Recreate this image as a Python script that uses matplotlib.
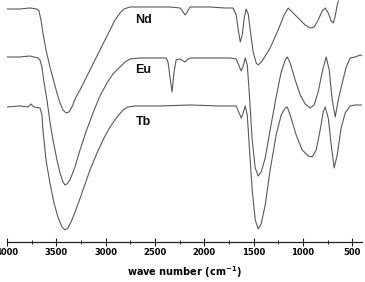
import matplotlib
matplotlib.use("Agg")
import matplotlib.pyplot as plt
from matplotlib.ticker import MultipleLocator

# wave number (cm-1) and offset transmittance (arbitrary units)
nd_w = [4000, 3868, 3767, 3696, 3675, 3655, 3635, 3604, 3564, 3523, 3493, 3462, 3432,
        3401, 3371, 3341, 3300, 3259, 3158, 3057, 2955, 2904, 2854, 2813, 2752, 2549,
        2346, 2245, 2214, 2194, 2174, 2143, 1941, 1788, 1707, 1676, 1655, 1635, 1615,
        1595, 1575, 1554, 1534, 1504, 1473, 1453, 1413, 1332, 1251, 1190, 1149, 1109,
        1048, 977, 926, 886, 845, 804, 774, 743, 713, 692, 672, 652, 641]
nd_t = [233, 233, 234, 233, 231, 222, 209, 192, 175, 160, 149, 139, 132,
        129, 130, 135, 145, 152, 172, 192, 212, 222, 229, 233, 235, 235,
        235, 234, 230, 227, 230, 235, 235, 234, 234, 227, 212, 200, 207,
        224, 233, 228, 212, 190, 179, 177, 181, 194, 212, 227, 234, 230,
        224, 217, 214, 215, 222, 231, 234, 229, 221, 219, 226, 237, 241]

eu_w = [4000, 3868, 3767, 3686, 3665, 3645, 3625, 3594, 3564, 3533, 3493, 3462, 3432,
        3412, 3391, 3361, 3310, 3259, 3199, 3128, 3057, 2986, 2925, 2854, 2803, 2752,
        2651, 2448, 2387, 2367, 2346, 2326, 2306, 2285, 2245, 2214, 2194, 2174, 2143,
        1941, 1738, 1676, 1655, 1625, 1605, 1585, 1564, 1544, 1514, 1483, 1453, 1423,
        1382, 1332, 1271, 1220, 1179, 1159, 1129, 1078, 1027, 977, 926, 886, 845, 804,
        764, 733, 703, 672, 642, 601, 561, 520, 469, 419, 398]
eu_t = [185, 185, 186, 184, 182, 175, 160, 142, 120, 102, 82, 69, 60,
        57, 58, 62, 75, 92, 110, 129, 146, 159, 168, 175, 180, 183,
        184, 184, 184, 180, 164, 150, 170, 182, 183, 181, 180, 182, 184,
        184, 184, 183, 178, 171, 176, 184, 177, 150, 102, 74, 66, 70,
        84, 112, 145, 170, 182, 185, 179, 162, 147, 138, 134, 137, 150, 170,
        185, 172, 142, 125, 142, 159, 175, 184, 185, 187, 186]

tb_w = [4000, 3868, 3787, 3757, 3726, 3665, 3645, 3635, 3604, 3564, 3523, 3483, 3442,
        3412, 3381, 3341, 3290, 3229, 3158, 3087, 3016, 2955, 2884, 2823, 2772, 2702,
        2448, 2143, 1839, 1676, 1655, 1625, 1605, 1585, 1564, 1544, 1514, 1483, 1453,
        1423, 1382, 1332, 1271, 1220, 1179, 1159, 1129, 1068, 1007, 946, 906, 865, 825,
        794, 774, 743, 713, 683, 652, 612, 571, 520, 469, 398]
tb_t = [135, 136, 135, 138, 135, 134, 127, 112, 82, 59, 39, 25, 15,
        12, 14, 22, 35, 52, 72, 89, 104, 115, 125, 132, 135, 136,
        136, 137, 136, 136, 131, 124, 129, 136, 127, 97, 52, 22, 13,
        18, 37, 72, 107, 127, 134, 135, 127, 107, 92, 86, 85, 92, 112,
        130, 135, 124, 97, 74, 87, 114, 129, 136, 137, 137]

labels = ["Nd", "Eu", "Tb"]
label_w = [2620, 2620, 2620]
label_t = [222, 172, 120]

fig = plt.figure(figsize=(3.65, 2.82), dpi=100)
ax = fig.add_axes([0.019, 0.142, 0.973, 0.858])

line_color = "#5a5a5a"
for w, t in [(nd_w, nd_t), (eu_w, eu_t), (tb_w, tb_t)]:
    ax.plot(w, t, color=line_color, lw=0.8)

for name, lw_, lt in zip(labels, label_w, label_t):
    ax.text(lw_, lt, name, ha="center", va="center", fontsize=9,
            fontweight="bold", family="Liberation Sans", color="#111111")

ax.set_xlim(4000, 400)
ax.set_ylim(0, 242)
for s in ["left", "right", "top"]:
    ax.spines[s].set_visible(False)
ax.spines["bottom"].set_color("#222222")
ax.spines["bottom"].set_linewidth(0.9)
ax.set_yticks([])
ax.xaxis.set_major_locator(MultipleLocator(500))
ax.xaxis.set_minor_locator(MultipleLocator(250))
ax.tick_params(axis="x", which="major", direction="inout", length=6, width=0.8,
               color="#222222", pad=1.5)
ax.tick_params(axis="x", which="minor", direction="inout", length=3, width=0.7,
               color="#222222")
for lab in ax.get_xticklabels():
    lab.set_fontsize(6)
    lab.set_fontweight("bold")
    lab.set_family("DejaVu Sans")
ax.set_xlabel("wave number (cm$^{\\mathregular{-1}}$)", fontsize=7,
              fontweight="bold", family="DejaVu Sans", labelpad=5)

fig.savefig("out.png", dpi=100)
